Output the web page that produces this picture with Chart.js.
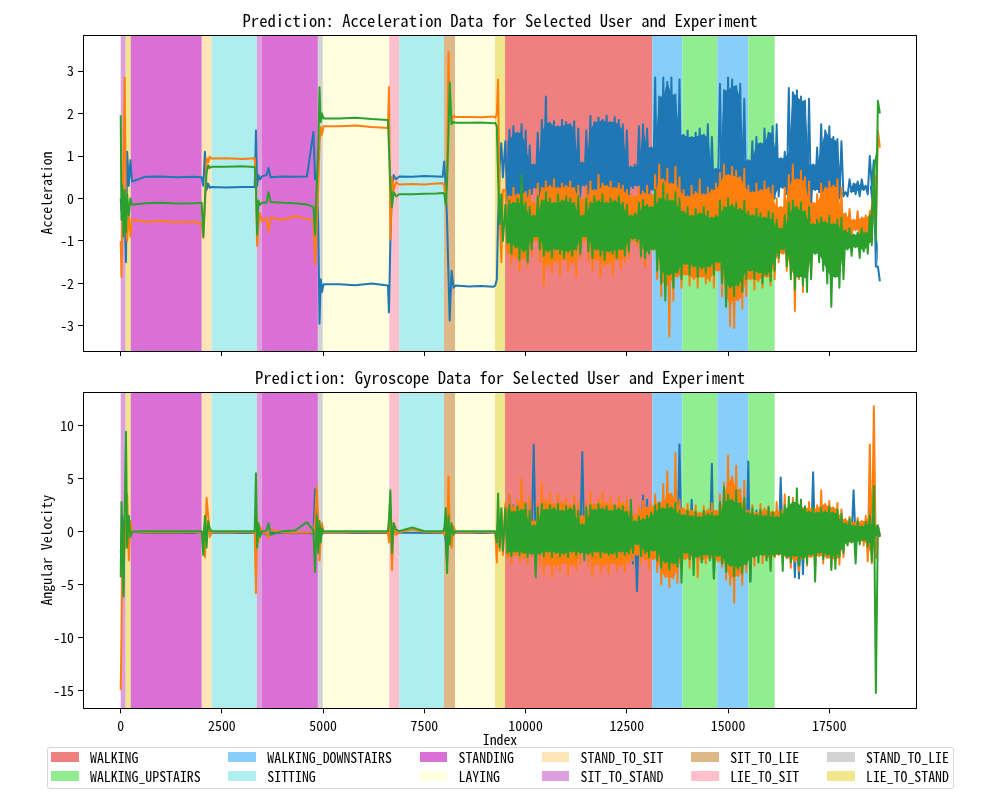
<!DOCTYPE html>
<html><head><meta charset="utf-8">
<script src="https://cdn.jsdelivr.net/npm/chart.js@4.4.1/dist/chart.umd.min.js"></script>
<style>
html,body{margin:0;padding:0;background:#fff;}
#wrap{position:relative;width:1000px;height:800px;overflow:hidden;background:#fff;}
#box1{position:absolute;left:0;top:0;width:1000px;height:380px;}
#box2{position:absolute;left:0;top:355px;width:1000px;height:400px;}
#legend{position:absolute;top:746.5px;display:flex;border:1px solid #d6d6d6;border-radius:3px;background:rgba(255,255,255,0.8);padding:0 4px 2.6px 3.3px;}
.col{display:flex;flex-direction:column;}
.col+.col{margin-left:27.8px;}
.item{display:flex;align-items:center;height:19px;white-space:nowrap;color:#000;}
.sw{width:27.8px;height:9.7px;margin-right:11.1px;flex:none;}
</style></head>
<body>
<div id="wrap">
  <div id="box1"><canvas id="c1" width="1000" height="380"></canvas></div>
  <div id="box2"><canvas id="c2" width="1000" height="400"></canvas></div>
  <div id="legend"></div>
</div>
<script>
// ---------------- DATA ----------------
const TITLE1 = 'Prediction: Acceleration Data for Selected User and Experiment';
const TITLE2 = 'Prediction: Gyroscope Data for Selected User and Experiment';
const xTickVals = [0, 2500, 5000, 7500, 10000, 12500, 15000, 17500];
const accTickVals = [-3, -2, -1, 0, 1, 2, 3];
const gyroTickVals = [-15, -10, -5, 0, 5, 10];

const legendLabels = ['WALKING','WALKING_UPSTAIRS','WALKING_DOWNSTAIRS','SITTING','STANDING','LAYING',
  'STAND_TO_SIT','SIT_TO_STAND','SIT_TO_LIE','LIE_TO_SIT','STAND_TO_LIE','LIE_TO_STAND'];
const labelColors = {
  WALKING:'#F08080', WALKING_UPSTAIRS:'#90EE90', WALKING_DOWNSTAIRS:'#87CEFA', SITTING:'#AFEEEE',
  STANDING:'#DA70D6', LAYING:'#FFFFE0', STAND_TO_SIT:'#FFE4B5', SIT_TO_STAND:'#DDA0DD',
  SIT_TO_LIE:'#DEB887', LIE_TO_SIT:'#FFC0CB', STAND_TO_LIE:'#D3D3D3', LIE_TO_STAND:'#F0E68C'
};

// predicted activity segments (sample index)
const spanStart = [0,124,247,2002,2250,3362,3486,4870,4993,6632,6880,7985,8256,9245,9492,13126,13868,14733,15499];
const spanEnd   = [124,247,2002,2250,3362,3486,4870,4993,6632,6880,7985,8256,9245,9492,13126,13868,14733,15499,16150];
const spanLabel = ['SIT_TO_STAND','LIE_TO_STAND','STANDING','STAND_TO_SIT','SITTING','SIT_TO_STAND','STANDING',
  'STAND_TO_LIE','LAYING','LIE_TO_SIT','SITTING','SIT_TO_LIE','LAYING','LIE_TO_STAND','WALKING',
  'WALKING_DOWNSTAIRS','WALKING_UPSTAIRS','WALKING_DOWNSTAIRS','WALKING_UPSTAIRS'];

// static / transition part: sample index and values
const steadyIdx = [0,20,40,70,100,130,160,200,240,280, 600,1000,1400,1800,
  2000,2040,2080,2120,2160,2200,2250, 2600,3000, 3310,3340,3370,3400,3440,3490,
  3600,3650,3700,4000,4300,4600, 4760,4800,4840,4880,4910,4940,4970,5010,
  5400,5800,6200,6600, 6625,6660,6700,6740,6800,6880, 7200,7500,7800,7950,
  7990,8030,8060,8095,8125,8170,8220,8270, 8600,8900,9200, 9250,9290,9320,9360,9400,9440];

const accBlueSteady = [0.0,-0.3,0.2,-0.5,-0.3,-1.50,1.10,0.30,0.90,0.40, 0.51,0.52,0.50,0.51,
  0.50,0.30,1.10,0.20,0.35,0.25,0.27, 0.26,0.27, 0.27,1.60,0.30,0.55,0.45,0.52,
  0.55,0.72,0.50,0.52,0.51,0.52, 1.57,0.45,0.55,-0.60,-2.95,-1.90,-2.20,-2.02,
  -2.02,-2.04,-2.00,-2.05, -2.68,-1.00,0.20,0.55,0.45,0.52, 0.51,0.53,0.52,0.51,
  0.87,0.20,-0.50,-1.80,-2.87,-1.70,-2.10,-2.05, -2.07,-2.06,-2.08, -2.05,-1.90,-0.50,0.80,1.30,0.50];
const accOrangeSteady = [-1.00,-1.85,-0.50,1.00,2.85,-0.60,-1.00,-0.30,-0.90,-0.50, -0.55,-0.53,-0.56,-0.54,
  -0.60,-0.93,-0.20,0.95,0.85,0.98,0.94, 0.95,0.93, 0.95,0.20,-1.12,-0.60,-0.35,-0.55,
  -0.45,-0.78,-0.45,-0.50,-0.42,-0.48, -0.52,-1.55,-0.60,0.30,1.30,1.68,1.50,1.70,
  1.70,1.72,1.68,1.66, 2.62,-0.97,0.50,0.20,0.38,0.33, 0.34,0.33,0.35,0.36,
  0.30,-0.15,0.60,3.45,2.20,1.85,1.95,1.92, 1.92,1.91,1.93, 1.90,2.00,2.80,-0.30,-1.50,0.20];
const accGreenSteady = [1.96,-0.50,0.30,-0.90,0.20,-0.80,0.10,-0.40,0.00,-0.15, -0.11,-0.10,-0.12,-0.11,
  -0.10,-0.90,0.00,0.60,0.78,0.72,0.75, 0.75,0.76, 0.74,0.30,-0.85,-0.05,-0.15,-0.10,
  -0.10,0.15,-0.08,-0.10,-0.11,-0.14, -0.20,-0.85,0.30,1.20,2.62,1.80,2.00,1.88,
  1.88,1.90,1.87,1.85, 1.20,0.30,-0.20,0.15,0.05,0.10, 0.10,0.11,0.12,0.13,
  0.12,-0.15,0.40,1.50,2.73,1.75,1.80,1.78, 1.78,1.79,1.77, 1.78,1.70,0.50,-0.60,0.10,-1.00];

const gyroBlueSteady = [-2.0,-1.0,1.5,-1.0,1.0,-0.5,1.2,-0.5,0.3,0.0, -0.10,-0.12,-0.10,-0.12,
  0.0,-0.8,0.9,-0.5,0.4,0.0,-0.1, -0.10,-0.12, -0.1,-1.0,0.8,-0.5,0.3,-0.1,
  -0.2,-0.5,-0.1,-0.1,-0.15,-0.1, -0.2,4.0,1.0,-1.5,-0.5,0.5,-0.2,-0.1,
  -0.10,-0.12,-0.10,-0.12, 0.5,2.0,-1.5,0.3,-0.1,-0.1, -0.10,-0.12,-0.10,-0.12,
  0.3,-1.0,-3.0,1.0,-0.5,0.3,-0.1,-0.1, -0.10,-0.12,-0.10, -0.1,-0.5,1.0,-0.8,0.5,-0.6];
const gyroOrangeSteady = [-14.9,-10.0,-3.0,-5.5,1.0,-1.5,3.5,-2.7,1.0,0.0, -0.05,-0.03,-0.05,-0.04,
  -0.05,-1.5,-2.4,3.2,1.5,-0.5,0.0, -0.05,-0.04, -0.05,-5.8,1.2,-1.0,0.5,-0.05,
  -0.1,-0.6,0.2,-0.05,-0.1,-0.05, -0.1,1.0,4.2,1.0,-2.7,-0.5,0.8,-0.05,
  -0.05,-0.04,-0.05,-0.04, -1.0,2.5,-3.6,0.8,-0.3,-0.05, 0.2,-0.04,-0.05,-0.04,
  -0.3,1.0,-1.0,5.2,0.5,-1.5,0.5,-0.05, -0.05,-0.04,-0.05, -0.05,-2.9,1.5,-1.8,2.0,-2.2];
const gyroGreenSteady = [-4.3,2.8,-1.0,-6.1,2.0,9.4,-1.5,1.5,-0.5,0.0, 0.05,0.04,0.05,0.04,
  0.05,-2.2,1.5,-1.5,1.0,0.3,0.05, 0.05,0.04, 0.05,5.5,-1.5,0.8,-0.5,0.05,
  0.1,0.8,-0.3,0.05,0.1,0.9, 0.1,-3.8,1.5,-2.0,1.0,-1.0,0.3,0.05,
  0.05,0.04,0.05,0.04, 1.2,3.9,-2.0,0.8,0.2,0.05, 0.4,0.04,0.05,0.04,
  0.1,2.2,-3.9,1.5,-1.2,0.8,-0.3,0.05, 0.05,0.04,0.05, 0.05,-1.0,3.6,-1.5,2.2,-1.8];

// walking part: samples every 100 indices from 9500; hi = local maximum, lo = local minimum
const walkStart = 9500, walkStep = 100, walkCount = 93;

const accBlueHi = [1.35,1.62,1.70,1.55,1.75,1.60,1.25,0.80,1.55,1.85,
  2.40,1.78,1.82,1.70,1.85,1.80,1.75,1.82,1.65,0.85,
  1.60,1.95,1.80,1.90,1.85,1.95,1.80,1.92,1.85,1.75,
  1.60,0.75,0.80,1.70,1.75,1.65,1.20,2.85,2.40,2.85,
  2.75,2.85,2.45,2.80,1.50,1.60,1.45,1.55,1.65,1.50,
  1.75,1.45,0.70,2.70,2.55,2.85,2.80,2.65,2.70,2.35,
  0.90,1.35,1.45,1.30,1.65,1.55,1.70,1.75,0.95,1.10,
  2.60,2.50,2.55,2.40,2.30,2.35,0.80,1.20,1.75,1.60,
  1.70,1.45,1.40,1.35,0.15,0.45,0.35,0.40,0.45,0.30,
  1.00,0.90,-1.60];
const accBlueLo = [-0.05,0.05,-0.10,0.00,-0.15,0.05,0.10,0.25,0.00,-0.10,
  0.05,-0.15,0.00,-0.10,0.05,-0.05,-0.10,0.00,0.05,0.30,
  0.05,-0.10,0.00,-0.15,-0.05,0.00,-0.10,0.05,-0.05,0.00,
  0.10,0.25,0.30,0.00,-0.10,0.05,0.20,-0.30,-0.20,-0.40,
  -0.25,-0.35,-0.20,-0.30,0.00,-0.10,0.05,-0.05,0.00,-0.10,
  0.05,0.00,0.20,-0.30,-0.20,-0.40,-0.30,-0.25,-0.35,-0.20,
  0.10,-0.05,0.00,-0.10,0.05,-0.05,0.00,0.05,0.25,0.10,
  -0.20,-0.10,-0.25,-0.15,-0.10,-0.20,0.20,0.15,0.00,-0.10,
  0.05,-0.05,0.00,0.05,0.05,0.15,0.10,0.05,0.20,0.10,
  0.30,-1.60,-1.95];
const accOrangeHi = [0.20,0.05,0.25,0.10,0.30,0.15,0.20,-0.10,0.35,0.25,
  0.40,0.30,0.45,0.25,0.35,0.30,0.40,0.25,0.30,0.00,
  0.30,0.40,0.20,0.55,0.35,0.30,0.40,0.25,0.35,0.30,
  0.20,0.10,0.05,0.25,0.15,0.30,0.10,0.55,0.80,0.45,
  0.70,0.35,0.75,0.50,0.20,0.05,0.30,0.15,0.45,0.10,
  0.25,0.20,0.35,0.60,0.80,0.55,0.75,0.65,0.50,0.70,
  0.30,0.15,0.35,0.20,0.40,0.25,0.30,0.00,-0.20,0.25,
  0.55,0.80,0.45,0.65,0.50,0.40,-0.10,0.10,0.35,0.25,
  0.40,0.30,0.45,0.25,-0.35,-0.25,-0.50,-0.30,-0.45,-0.40,
  -0.30,0.20,1.60];
const accOrangeLo = [-1.30,-1.55,-1.40,-1.70,-1.45,-1.60,-1.35,-1.00,-1.50,-2.05,
  -1.60,-1.75,-1.50,-1.80,-1.45,-1.70,-1.55,-1.85,-1.40,-1.00,
  -1.50,-1.70,-1.45,-1.85,-1.60,-1.55,-1.80,-1.45,-1.65,-1.50,
  -1.40,-1.00,-1.10,-1.40,-1.60,-1.30,-1.20,-1.90,-2.30,-2.05,
  -3.25,-2.40,-1.85,-2.10,-1.80,-2.05,-1.90,-2.10,-1.85,-2.00,
  -1.95,-2.10,-1.70,-2.30,-2.50,-3.00,-3.05,-2.40,-2.60,-2.30,
  -1.90,-2.15,-1.95,-2.10,-1.85,-2.05,-1.90,-1.50,-1.30,-1.70,
  -1.80,-2.65,-1.90,-2.20,-1.70,-1.85,-1.20,-1.40,-1.50,-1.75,
  -1.45,-1.65,-1.55,-1.40,-0.85,-0.90,-0.75,-0.95,-0.80,-0.90,
  -0.85,-0.70,1.20];
const accGreenHi = [-0.15,-0.05,-0.10,0.00,0.55,-0.10,-0.20,-0.40,0.05,-0.05,
  0.15,0.00,-0.10,0.10,-0.05,0.05,0.00,-0.10,0.05,-0.40,
  0.00,-0.10,0.05,-0.05,0.10,-0.10,0.00,-0.05,0.05,-0.10,
  -0.15,-0.40,-0.35,-0.10,-0.05,-0.15,-0.20,0.20,0.00,0.35,
  0.10,-0.05,0.15,0.00,-0.30,-0.20,-0.40,-0.25,-0.35,-0.20,
  -0.30,-0.45,-0.40,-0.05,-0.20,0.00,-0.15,-0.10,-0.25,-0.05,
  -0.30,-0.40,-0.25,-0.35,-0.45,-0.30,-0.35,-0.50,-0.70,-0.40,
  -0.10,-0.05,-0.20,-0.10,-0.30,-0.20,-0.60,-0.50,-0.45,-0.55,
  -0.40,-0.60,-0.50,-0.45,-0.75,-0.70,-0.85,-0.80,-0.70,-0.80,
  -0.40,0.70,2.30];
const accGreenLo = [-1.05,-1.30,-1.15,-1.45,-1.25,-1.50,-1.20,-0.90,-1.20,-1.35,
  -1.25,-1.40,-1.20,-1.30,-1.40,-1.25,-1.35,-1.20,-1.30,-0.90,
  -1.25,-1.40,-1.20,-1.35,-1.45,-1.25,-1.30,-1.40,-1.20,-1.35,
  -1.25,-0.95,-1.00,-1.35,-1.40,-1.30,-1.20,-1.70,-2.00,-2.40,
  -1.80,-2.10,-1.75,-1.90,-1.55,-1.80,-1.60,-1.85,-1.65,-1.75,
  -1.60,-1.80,-1.50,-2.00,-2.55,-2.10,-2.30,-2.05,-2.20,-1.90,
  -1.70,-1.90,-1.75,-2.00,-1.80,-1.95,-1.70,-1.40,-1.20,-1.60,
  -1.90,-2.15,-1.85,-2.05,-2.20,-1.90,-1.30,-1.50,-1.70,-2.00,
  -2.55,-1.85,-2.10,-1.90,-1.20,-1.35,-1.15,-1.40,-1.25,-1.30,
  -1.10,-1.00,2.00];

const gyroBlueHi = [1.0,3.4,2.5,1.0,1.2,1.0,1.3,8.2,1.0,1.2,
  1.0,1.3,1.1,1.0,1.2,1.0,1.3,1.1,1.0,7.5,
  1.2,1.0,1.3,1.1,1.0,1.2,1.0,1.3,1.1,1.0,
  1.2,0.8,0.5,1.0,3.4,3.0,1.2,1.5,1.3,1.6,
  1.2,1.4,1.5,8.2,1.3,1.2,3.0,1.2,1.4,1.1,
  1.3,6.4,1.2,1.5,1.3,1.6,1.4,1.5,1.3,1.4,
  6.6,1.3,2.0,1.2,1.5,1.1,1.3,1.2,5.1,1.3,
  1.5,1.2,1.4,1.3,1.5,1.2,5.6,1.0,1.4,1.2,
  2.0,1.3,1.1,1.2,0.8,0.6,3.9,0.7,0.5,0.6,
  2.2,0.8,0.6];
const gyroBlueLo = [-1.0,-0.8,-1.2,-1.0,-0.9,-1.1,-1.0,-1.5,-1.0,-1.2,
  -0.9,-1.1,-1.0,-1.2,-0.9,-1.1,-1.0,-1.2,-0.9,-1.3,
  -1.0,-1.1,-0.9,-1.2,-1.0,-1.1,-0.9,-1.2,-1.0,-1.1,
  -1.5,-3.0,-5.6,-1.2,-1.0,-1.1,-1.0,-1.5,-1.3,-1.6,
  -3.5,-1.4,-1.5,-1.3,-1.2,-1.4,-1.1,-1.3,-1.2,-1.4,
  -1.1,-4.4,-1.2,-1.5,-1.3,-1.6,-3.5,-1.5,-1.3,-1.4,
  -4.7,-1.3,-1.2,-1.4,-1.1,-1.3,-1.2,-1.0,-1.2,-1.1,
  -1.3,-4.3,-4.4,-4.0,-1.2,-1.3,-1.5,-1.0,-1.2,-1.3,
  -1.1,-1.2,-1.0,-1.1,-0.7,-0.5,-0.8,-0.6,-0.5,-0.7,
  -0.8,-0.6,-0.5];
const gyroOrangeHi = [2.6,3.5,2.4,3.0,5.0,2.8,3.2,1.0,2.7,4.6,
  3.0,3.7,2.6,3.5,2.8,3.2,2.5,3.4,2.7,1.5,
  2.8,3.7,2.6,3.1,3.7,2.7,3.2,2.5,3.3,2.8,
  3.0,2.2,1.6,2.4,2.9,2.3,2.6,3.5,2.8,4.5,
  5.7,3.6,7.4,3.0,2.2,2.6,2.0,2.5,1.8,2.4,
  2.1,2.7,2.0,3.5,4.6,7.2,5.2,6.2,4.0,4.8,
  2.0,2.5,1.8,2.6,2.2,2.4,1.9,2.8,2.0,3.5,
  2.4,3.2,2.6,3.0,2.3,2.8,2.2,2.5,3.9,2.6,
  2.9,2.3,2.7,2.1,1.2,1.4,0.9,1.3,1.0,1.5,
  8.2,11.8,0.5];
const gyroOrangeLo = [-2.4,-3.0,-2.2,-2.8,-2.5,-3.0,-2.3,-1.0,-3.2,-4.0,
  -3.1,-4.3,-3.3,-3.8,-3.0,-4.1,-3.2,-3.7,-3.0,-1.6,
  -3.3,-4.2,-3.1,-3.9,-3.2,-4.0,-3.0,-3.6,-3.2,-3.8,
  -3.0,-2.7,-2.2,-3.0,-2.7,-3.5,-2.6,-3.8,-5.0,-4.3,
  -5.2,-4.4,-4.8,-3.5,-2.6,-3.4,-2.4,-4.3,-2.8,-3.0,
  -2.5,-3.2,-2.8,-3.3,-4.5,-5.0,-6.7,-4.2,-5.0,-3.8,
  -2.6,-3.2,-2.2,-3.0,-2.5,-3.3,-2.4,-2.2,-3.0,-2.5,
  -3.4,-2.8,-3.7,-2.6,-3.2,-2.4,-3.5,-2.3,-3.0,-2.5,
  -3.4,-2.7,-3.1,-2.4,-1.2,-1.0,-1.4,-0.9,-1.3,-2.8,
  -3.0,-2.5,-0.3];
const gyroGreenHi = [2.2,2.5,1.9,2.4,2.1,2.6,2.0,0.6,2.3,2.6,
  2.1,2.5,2.2,2.6,2.0,2.4,2.2,2.5,2.0,0.7,
  2.3,2.5,2.1,2.6,2.2,2.4,2.0,2.5,2.2,2.4,
  1.9,3.0,1.0,1.4,1.2,1.5,1.8,2.5,2.7,2.2,
  2.6,2.3,2.7,2.0,1.6,2.0,1.5,1.9,1.4,2.0,
  1.7,1.8,1.5,2.8,4.2,3.5,3.0,3.9,2.7,3.2,
  1.8,2.2,1.6,2.1,1.5,2.3,1.8,1.4,2.0,2.5,
  3.3,2.8,4.1,3.0,2.4,1.9,2.3,1.8,2.2,1.9,
  2.4,1.8,2.1,1.7,0.8,1.2,0.6,1.0,0.5,0.9,
  1.5,4.3,0.5];
const gyroGreenLo = [-2.0,-2.3,-1.9,-2.2,-2.0,-2.4,-2.1,-4.3,-2.1,-2.3,
  -1.9,-2.4,-2.0,-2.3,-2.1,-2.4,-1.9,-2.2,-2.0,-2.7,
  -2.1,-2.3,-1.9,-2.4,-2.0,-2.2,-2.1,-2.4,-1.9,-2.2,
  -2.0,-2.0,-1.2,-2.3,-2.0,-2.4,-1.8,-2.7,-3.4,-2.9,
  -3.6,-3.0,-3.3,-4.8,-2.0,-2.6,-4.1,-2.4,-2.9,-2.2,
  -2.7,-4.4,-2.3,-3.0,-3.8,-3.2,-4.2,-3.5,-3.9,-3.1,
  -4.7,-2.4,-2.9,-2.2,-2.7,-3.7,-2.3,-2.1,-3.7,-2.4,
  -2.9,-2.3,-3.2,-2.6,-3.0,-2.2,-4.7,-2.0,-2.6,-2.2,
  -3.6,-3.5,-2.4,-2.0,-1.3,-1.0,-3.0,-1.2,-0.8,-1.4,
  -2.8,-15.2,-0.4];

// ---------------- FONT ----------------
function fontExists(f){
  const c = document.createElement('canvas').getContext('2d');
  const s = 'abcdefghijklmnopqrstuvwxyz0123456789WM_';
  for (const base of ['monospace','serif','sans-serif']) {
    c.font = '40px ' + base; const a = c.measureText(s).width;
    c.font = '40px "' + f + '", ' + base; const b = c.measureText(s).width;
    if (Math.abs(a - b) > 0.5) return true;
  }
  return false;
}
let FAMILY = 'DejaVu Sans Mono';
for (const f of ['Noto Sans Mono CJK SC','Noto Sans Mono CJK JP','Noto Sans CJK SC','DejaVu Sans Mono']) {
  if (fontExists(f)) { FAMILY = f; break; }
}
const mctx = document.createElement('canvas').getContext('2d');
mctx.font = '16.67px "' + FAMILY + '"';
let SCALE = 514.5 / mctx.measureText(TITLE1).width;
if (!(SCALE > 0.6 && SCALE < 1.6)) SCALE = 1;
const FS_TITLE = 16.67 * SCALE, FS = 13.89 * SCALE;
const FAM = '"' + FAMILY + '", "DejaVu Sans Mono", monospace';

// ---------------- BUILD ----------------
// full line: static part, then the walking samples as max/min pairs
function buildSeries(steadyVals, hi, lo) {
  const pts = [];
  steadyIdx.forEach((x, i) => pts.push({x: x, y: steadyVals[i]}));
  for (let k = 0; k < walkCount; k++) {
    const x = walkStart + walkStep * k;
    pts.push({x: x, y: hi[k]});
    pts.push({x: x + walkStep / 2, y: lo[k]});
  }
  return pts;
}
// dense core of the noisy walking signal (isolated spikes are left to the line itself)
function coreBand(hi, lo) {
  const n = hi.length, top = [], bot = [];
  for (let k = 0; k < n; k++) {
    const a = Math.max(0, k - 1), b = Math.min(n - 1, k + 1);
    let h = Infinity, l = -Infinity;
    for (let j = a; j <= b; j++) { h = Math.min(h, hi[j]); l = Math.max(l, lo[j]); }
    if (h < l) { const m = (h + l) / 2; h = m; l = m; }
    top.push({x: walkStart + walkStep * k, y: h});
    bot.push({x: walkStart + walkStep * k + walkStep / 2, y: l});
  }
  return {top, bot};
}

const spanPlugin = {
  id: 'spans',
  beforeDatasetsDraw(chart) {
    const {ctx, chartArea: a, scales: {x}} = chart;
    ctx.save();
    ctx.beginPath(); ctx.rect(a.left, a.top, a.right - a.left, a.bottom - a.top); ctx.clip();
    spanStart.forEach((s, i) => {
      const x0 = x.getPixelForValue(s), x1 = x.getPixelForValue(spanEnd[i]);
      ctx.fillStyle = labelColors[spanLabel[i]];
      ctx.fillRect(x0, a.top, x1 - x0, a.bottom - a.top);
    });
    ctx.restore();
  }
};
const framePlugin = {
  id: 'frame',
  afterDraw(chart) {
    const {ctx, chartArea: a} = chart;
    ctx.save(); ctx.strokeStyle = '#000'; ctx.lineWidth = 1;
    ctx.strokeRect(Math.round(a.left) + 0.5, Math.round(a.top) + 0.5,
      Math.round(a.right) - Math.round(a.left) - 1, Math.round(a.bottom) - Math.round(a.top));
    ctx.restore();
  }
};

const fmtNum = v => (v < 0 ? '-' : '') + Math.abs(v);
const TRANSPARENT = 'rgba(0,0,0,0)';

function seriesDatasets(color, order, steady, hi, lo) {
  const band = coreBand(hi, lo);
  return [
    {data: buildSeries(steady, hi, lo), borderColor: color, order: order},
    {data: band.top, borderColor: TRANSPARENT, backgroundColor: color, borderWidth: 1, fill: '+1', order: order},
    {data: band.bot, borderColor: TRANSPARENT, backgroundColor: color, borderWidth: 1, fill: false, order: order}
  ];
}

function makeChart(canvasId, cfg) {
  return new Chart(document.getElementById(canvasId), {
    type: 'line',
    data: {datasets: [
      ...seriesDatasets('#1f77b4', 3, cfg.blue[0], cfg.blue[1], cfg.blue[2]),
      ...seriesDatasets('#ff7f0e', 2, cfg.orange[0], cfg.orange[1], cfg.orange[2]),
      ...seriesDatasets('#2ca02c', 1, cfg.green[0], cfg.green[1], cfg.green[2])
    ]},
    options: {
      responsive: false, animation: false, devicePixelRatio: 1,
      parsing: false, normalized: true,
      elements: {point: {radius: 0}, line: {borderWidth: 2, tension: 0, fill: false, borderJoinStyle: 'round'}},
      layout: {padding: {left: 0, right: 83, top: 0, bottom: 0}},
      plugins: {
        legend: {display: false}, tooltip: {enabled: false},
        title: {display: true, fullSize: false, text: cfg.title, color: '#000',
          font: {family: FAM, size: FS_TITLE, weight: 'normal', lineHeight: 1.2},
          padding: cfg.titlePad}
      },
      scales: {
        x: {
          type: 'linear', min: -931, max: 19666,
          afterBuildTicks: s => { s.ticks = xTickVals.map(v => ({value: v})); },
          afterFit: s => { s.height = cfg.xHeight; },
          ticks: {autoSkip: false, maxRotation: 0, color: '#000', padding: 4,
            font: {family: FAM, size: FS},
            callback: v => cfg.xLabels ? String(v) : ''},
          grid: {drawOnChartArea: false, drawTicks: true, tickLength: 5, color: '#000', lineWidth: 1},
          border: {display: false},
          title: cfg.xTitle ? {display: true, text: 'Index', color: '#000',
            font: {family: FAM, size: FS, lineHeight: 1.2}, padding: {top: 0, bottom: 6.7}} : {display: false}
        },
        y: {
          min: cfg.ymin, max: cfg.ymax,
          afterBuildTicks: s => { s.ticks = cfg.yTicks.map(v => ({value: v})); },
          afterFit: s => { s.width = 83; },
          ticks: {color: '#000', padding: 4, font: {family: FAM, size: FS}, callback: v => fmtNum(v)},
          grid: {drawOnChartArea: false, drawTicks: true, tickLength: 5, color: '#000', lineWidth: 1},
          border: {display: false},
          title: {display: true, text: cfg.yTitle, color: '#000',
            font: {family: FAM, size: FS, lineHeight: 1.2}, padding: {top: 38, bottom: 0}}
        }
      }
    },
    plugins: [spanPlugin, framePlugin]
  });
}

makeChart('c1', {
  title: TITLE1, titlePad: {top: 11, bottom: 4},
  blue: [accBlueSteady, accBlueHi, accBlueLo],
  orange: [accOrangeSteady, accOrangeHi, accOrangeLo],
  green: [accGreenSteady, accGreenHi, accGreenLo],
  ymin: -3.59, ymax: 3.85, yTicks: accTickVals, yTitle: 'Acceleration',
  xHeight: 29, xLabels: false, xTitle: false
});
makeChart('c2', {
  title: TITLE2, titlePad: {top: 13, bottom: 4.3},
  blue: [gyroBlueSteady, gyroBlueHi, gyroBlueLo],
  orange: [gyroOrangeSteady, gyroOrangeHi, gyroOrangeLo],
  green: [gyroGreenSteady, gyroGreenHi, gyroGreenLo],
  ymin: -16.63, ymax: 13.13, yTicks: gyroTickVals, yTitle: 'Angular Velocity',
  xHeight: 46.7, xLabels: true, xTitle: true
});

// ---------------- LEGEND ----------------
const lg = document.getElementById('legend');
lg.style.fontFamily = FAM;
lg.style.fontSize = FS + 'px';
for (let c = 0; c < legendLabels.length / 2; c++) {
  const col = document.createElement('div'); col.className = 'col';
  for (let r = 0; r < 2; r++) {
    const lab = legendLabels[c * 2 + r];
    const it = document.createElement('div'); it.className = 'item';
    const sw = document.createElement('span'); sw.className = 'sw'; sw.style.background = labelColors[lab];
    const tx = document.createElement('span'); tx.textContent = lab;
    it.appendChild(sw); it.appendChild(tx); col.appendChild(it);
  }
  lg.appendChild(col);
}
const w = lg.getBoundingClientRect().width;
lg.style.left = (500.4 - w / 2) + 'px';
</script>
</body></html>
